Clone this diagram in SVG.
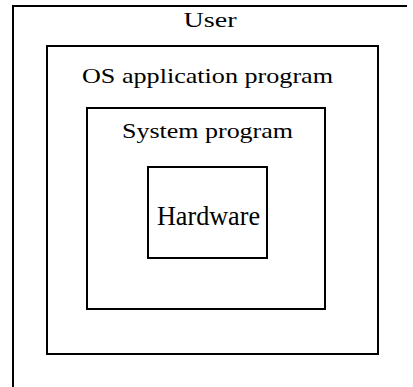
<svg xmlns="http://www.w3.org/2000/svg" width="413" height="387" viewBox="0 0 413 387">
<style>
.box{fill:none;stroke:#000;stroke-width:2}
.lbl{font-family:"Liberation Serif","Times New Roman",serif;fill:#000;text-anchor:middle}
</style>
<rect width="413" height="387" fill="#fff"/>
<g id="user">
<path class="box" d="M13,387 V6 H407"/>
<text class="lbl" x="210" y="27" font-size="20" textLength="53" lengthAdjust="spacingAndGlyphs">User</text>
</g>
<g id="os-application-program">
<rect class="box" x="47" y="46" width="331" height="308"/>
<text class="lbl" x="207.5" y="83" font-size="22" textLength="251" lengthAdjust="spacingAndGlyphs">OS application program</text>
</g>
<g id="system-program">
<rect class="box" x="87" y="108" width="238" height="201"/>
<text class="lbl" x="207.5" y="138" font-size="22" textLength="171" lengthAdjust="spacingAndGlyphs">System program</text>
</g>
<g id="hardware">
<rect class="box" x="148" y="167" width="119" height="91"/>
<text class="lbl" x="208.5" y="225" font-size="28" textLength="103" lengthAdjust="spacingAndGlyphs">Hardware</text>
</g>
<g id="connectors"></g>
</svg>
